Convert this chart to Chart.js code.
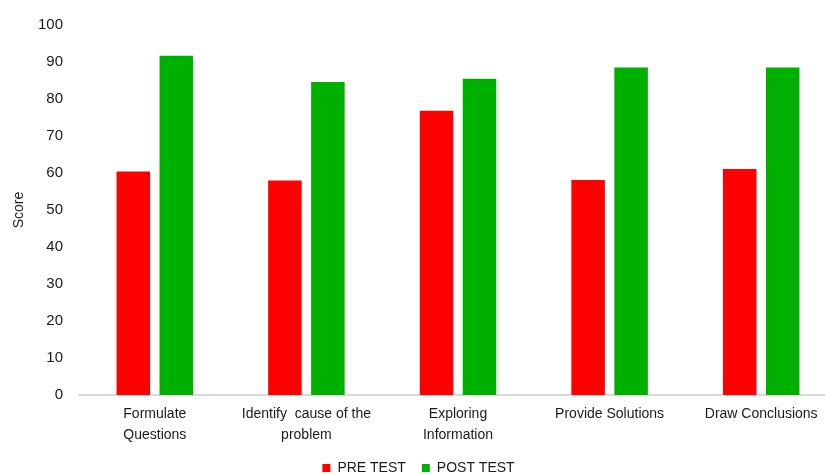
<!DOCTYPE html>
<html>
<head>
<meta charset="utf-8">
<script src="https://cdn.jsdelivr.net/npm/chart.js@4.4.1/dist/chart.umd.min.js"></script>
<style>
  html, body { margin: 0; padding: 0; background: #fff; overflow: hidden; }
  #wrap { position: relative; width: 842px; height: 475px; }
</style>
</head>
<body>
<div id="wrap"><canvas id="scoreChart"></canvas></div>
<script>
const categories = [
  ["Formulate", "Questions"],
  ["Identify  cause of the", "problem"],
  ["Exploring", "Information"],
  ["Provide Solutions"],
  ["Draw Conclusions"]
];
const pretest = [60.4, 58.0, 76.8, 58.1, 61.1];
const posttest = [91.7, 84.6, 85.5, 88.5, 88.5];
const yTicks = [0, 10, 20, 30, 40, 50, 60, 70, 80, 90, 100];

// Chart: Pretest vs Posttest scores
new Chart(document.getElementById('scoreChart'), {
  type: 'bar',
  data: {
    labels: categories,
    datasets: [{
      label: "PRE TEST",
      data: pretest,
      backgroundColor: "#FF0000",
      barPercentage: 0.78,
      categoryPercentage: 0.567
    }, {
      label: "POST TEST",
      data: posttest,
      backgroundColor: "#00B000",
      barPercentage: 0.78,
      categoryPercentage: 0.567
    }]
  },
  options: {
    responsive: true,
    maintainAspectRatio: false,
    animation: false,
    layout: { padding: { top: 22, right: 5, bottom: 0, left: 0 } },
    plugins: {
      tooltip: { enabled: false },
      legend: {
        position: 'bottom',
        maxHeight: 30,
        labels: {
          boxWidth: 8,
          boxHeight: 8,
          padding: 16,
          color: '#1a1a1a',
          font: { family: 'Liberation Sans', size: 14 }
        }
      }
    },
    scales: {
      x: {
        grid: { display: false, drawTicks: false },
        border: { color: '#D9D9D9', width: 2 },
        ticks: {
          padding: 9,
          maxRotation: 0,
          autoSkip: false,
          color: '#1a1a1a',
          font: { family: 'Liberation Sans', size: 14, lineHeight: 1.5 }
        },
        afterFit: function(scale) { scale.height = 50; }
      },
      y: {
        min: 0,
        max: 100,
        afterBuildTicks: function(scale) {
          scale.ticks = yTicks.map(v => ({ value: v }));
        },
        grid: { display: false, drawTicks: false },
        border: { display: false },
        ticks: {
          padding: 16,
          color: '#1a1a1a',
          font: { family: 'Liberation Sans', size: 15 }
        },
        title: {
          display: true,
          text: 'Score',
          color: '#1a1a1a',
          padding: { top: 11, bottom: 0 },
          font: { family: 'Liberation Sans', size: 14 }
        },
        afterFit: function(scale) { scale.width = 79; }
      }
    }
  }
});
</script>
</body>
</html>
